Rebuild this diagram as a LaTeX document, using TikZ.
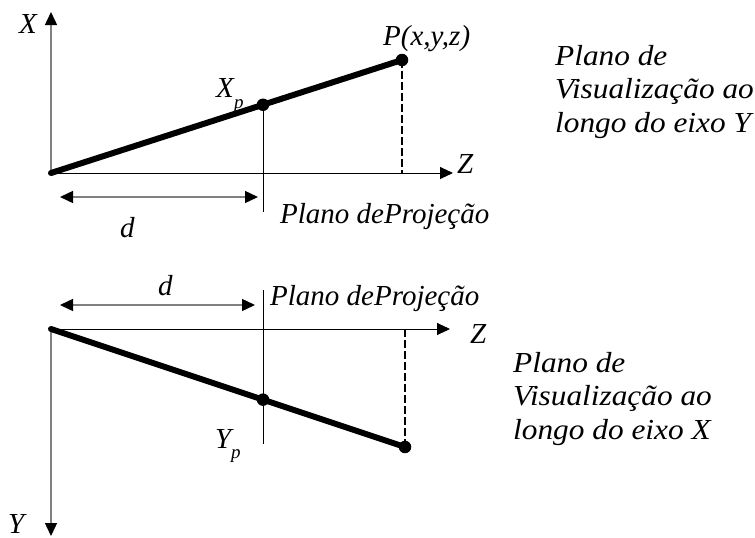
\documentclass[tikz,border=0pt]{standalone}
\usepackage{fontspec}
\setmainfont{Liberation Serif}[ItalicFont={Liberation Serif Italic}]
\newfontfamily\figfont{Liberation Serif Italic}
\newfontfamily\parafont{Liberation Serif Italic}[FakeStretch=1.08]
\usetikzlibrary{arrows.meta}
\tikzset{
  axisline/.style={draw=gray, line width=1.4pt, -{Triangle[length=13pt,width=12pt,color=black]}},
  zaxis/.style={draw=black, line width=0.9pt, -{Triangle[length=13pt,width=12pt,color=black]}},
  darrow/.style={draw=gray, line width=1.4pt, {Triangle[length=13pt,width=12pt,color=black]}-{Triangle[length=13pt,width=12pt,color=black]}},
  projline/.style={draw=black, line width=0.9pt},
  thickline/.style={draw=black, line width=6pt},
  dashline/.style={draw=black, line width=2pt, dash pattern=on 8pt off 3pt},
  ptdot/.style={circle, fill=black, inner sep=0pt, minimum size=12.5pt},
  lab/.style={font=\fontsize{29}{34}\selectfont\figfont, inner sep=0pt, anchor=base west},
  para/.style={font=\fontsize{29}{33.5}\selectfont\parafont, inner sep=0pt, anchor=north west, align=left},
  sub/.style={font=\fontsize{19}{19}\selectfont\figfont, inner sep=0pt, anchor=base west}
}
\begin{document}
\begin{tikzpicture}[x=1pt,y=-1pt]
\useasboundingbox (0,0) rectangle (755,538);
% ---------- top panel ----------
\coordinate (O1) at (51,173);
\coordinate (X1tip) at (51,12);
\coordinate (Z1tip) at (453,173);
\coordinate (P1) at (402,60);
\coordinate (P1foot) at (402,173);
\coordinate (proj1bot) at (263,212);
\coordinate (proj1ref) at (263,60);
\coordinate (d1a) at (60,197);
\coordinate (d1b) at (258,197);
\draw[axisline] (O1) -- (X1tip);
\draw[zaxis] (O1) -- (Z1tip);
\draw[dashline] (P1) -- (P1foot);
\draw[thickline, line cap=round] (O1) -- (P1);
\node[ptdot] (P1dot) at (P1) {};
\node[ptdot] (Xpdot) at (intersection of O1--P1 and proj1ref--proj1bot) {};
\draw[projline] (Xpdot.center) -- (proj1bot);
\draw[darrow] (d1a) -- (d1b);
\node[lab] (Xlab) at (19,33) {X};
\node[lab] (Xplab) at (216,97) {X};
\node[sub] (Xpsub) at (234,108) {p};
\node[lab] (Plab) at (383,45) {P(x,y,z)};
\node[lab] (Z1lab) at (457,173) {Z};
\node[lab] (d1lab) at (120,237) {d};
\node[lab] (proj1lab) at (280,223) {Plano deProjeção};
\node[para] (vis1) at (555,45) {Plano de\\Visualização ao\\longo do eixo Y};
% ---------- bottom panel ----------
\coordinate (O2) at (51,329);
\coordinate (Y2tip) at (51,536);
\coordinate (Z2tip) at (450,329);
\coordinate (P2) at (405,447);
\coordinate (P2foot) at (405,329);
\coordinate (proj2top) at (263,290);
\coordinate (proj2bot) at (263,444);
\coordinate (d2a) at (60,305);
\coordinate (d2b) at (255,305);
\draw[axisline] (O2) -- (Y2tip);
\draw[zaxis] (O2) -- (Z2tip);
\draw[dashline] (P2foot) -- (P2);
\draw[projline] (proj2top) -- (proj2bot);
\draw[thickline, line cap=round] (O2) -- (P2);
\node[ptdot] (P2dot) at (P2) {};
\node[ptdot] (Ypdot) at (intersection of O2--P2 and proj2top--proj2bot) {};
\draw[darrow] (d2a) -- (d2b);
\node[lab] (d2lab) at (158,295) {d};
\node[lab] (proj2lab) at (270,305) {Plano deProjeção};
\node[lab] (Z2lab) at (470,343) {Z};
\node[lab] (Yplab) at (215,448) {Y};
\node[sub] (Ypsub) at (231,458) {p};
\node[lab] (Ylab) at (8,533) {Y};
\node[para] (vis2) at (513,352) {Plano de\\Visualização ao\\longo do eixo X};
\end{tikzpicture}
\end{document}
